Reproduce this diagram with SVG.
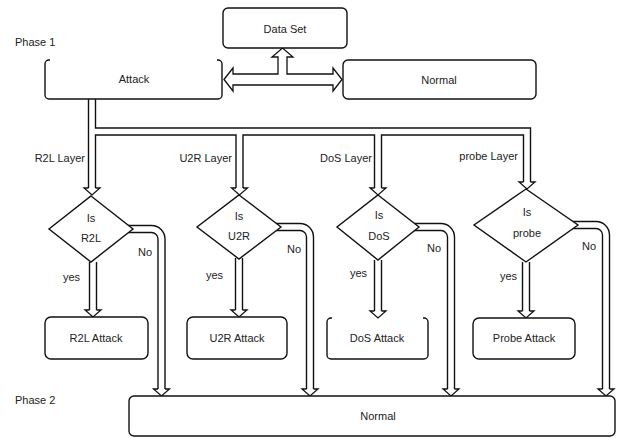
<svg xmlns="http://www.w3.org/2000/svg" width="619" height="438" viewBox="0 0 619 438">
<style>
.box{fill:#fff;stroke:#111;stroke-width:1.4}
.open{fill:none;stroke:#111;stroke-width:1.4}
.t{font-family:"Liberation Sans",Arial,sans-serif;font-size:11px;fill:#222}
.c{text-anchor:middle}
.r{text-anchor:end}
.outer{fill:none;stroke:#111;stroke-width:8.4;stroke-linejoin:miter}
.inner{fill:none;stroke:#fff;stroke-width:5.6;stroke-linejoin:miter}
.head{fill:#fff;stroke:#111;stroke-width:1.3;stroke-linejoin:miter}
</style>
<rect width="619" height="438" fill="#fff"/>
<text class="t" x="15" y="46">Phase 1</text>
<text class="t" x="15" y="404">Phase 2</text>
<g id="connectors">
<polygon class="head" points="224,79.5 233,68 233,74 278,74 278,57 272,57 282.5,48 293,57 287,57 287,74 333,74 333,68 342,79.5 333,91 333,85 233,85 233,91"/>
<g class="outer">
<path d="M92,99 V188"/>
<path d="M92,131.5 H527 V182"/>
<path d="M239.5,131.5 V188"/>
<path d="M378,131.5 V188"/>
<path d="M93,262 V310"/>
<path d="M239,258 V310"/>
<path d="M378,260 V311"/>
<path d="M526,262 V311"/>
<path d="M128,229 H151.5 A10,10 0 0 1 161.5,239 V389"/>
<path d="M276,227 H300 A10,10 0 0 1 310,237 V389"/>
<path d="M414,227 H441 A10,10 0 0 1 451,237 V389"/>
<path d="M572,225 H596 A10,10 0 0 1 606,235 V389"/>
</g>
<g class="inner">
<path d="M92,98 V188.5"/>
<path d="M92,131.5 H527 V182.5"/>
<path d="M239.5,131.5 V188.5"/>
<path d="M378,131.5 V188.5"/>
<path d="M93,261 V310.5"/>
<path d="M239,257 V310.5"/>
<path d="M378,259 V311.5"/>
<path d="M526,261 V311.5"/>
<path d="M128,229 H151.5 A10,10 0 0 1 161.5,239 V389.5"/>
<path d="M276,227 H300 A10,10 0 0 1 310,237 V389.5"/>
<path d="M414,227 H441 A10,10 0 0 1 451,237 V389.5"/>
<path d="M572,225 H596 A10,10 0 0 1 606,235 V389.5"/>
</g>
<polyline class="head" points="88.5,188 84,188 92,195 100,188 95.5,188"/>
<polyline class="head" points="523.5,182 519,182 527,189 535,182 530.5,182"/>
<polyline class="head" points="236,188 231.5,188 239.5,195 247.5,188 243,188"/>
<polyline class="head" points="374.5,188 370,188 378,195 386,188 381.5,188"/>
<polyline class="head" points="89.5,310 85,310 93,317 101,310 96.5,310"/>
<polyline class="head" points="235.5,310 231,310 239,317 247,310 242.5,310"/>
<polyline class="head" points="374.5,311 370,311 378,318 386,311 381.5,311"/>
<polyline class="head" points="522.5,311 518,311 526,318 534,311 529.5,311"/>
<polyline class="head" points="158,389 153.5,389 161.5,396 169.5,389 165,389"/>
<polyline class="head" points="306.5,389 302,389 310,396 318,389 313.5,389"/>
<polyline class="head" points="447.5,389 443,389 451,396 459,389 454.5,389"/>
<polyline class="head" points="602.5,389 598,389 606,396 614,389 609.5,389"/>
<text class="t r" x="85" y="162">R2L Layer</text>
<text class="t r" x="232" y="162">U2R Layer</text>
<text class="t r" x="372" y="162">DoS Layer</text>
<text class="t r" x="518" y="160">probe Layer</text>
<text class="t" x="63" y="281">yes</text>
<text class="t" x="206" y="279">yes</text>
<text class="t" x="350" y="277">yes</text>
<text class="t" x="500" y="280">yes</text>
<text class="t" x="138" y="256">No</text>
<text class="t" x="287" y="253">No</text>
<text class="t" x="427" y="252">No</text>
<text class="t" x="582" y="250">No</text>
</g>
<g id="dataset">
<rect class="box" x="223" y="8" width="124" height="40" rx="5"/>
<text class="t c" x="285" y="33">Data Set</text>
</g>
<g id="attack">
<path class="open" d="M50,60 H49 A4,4 0 0 0 45,64 V95 A4,4 0 0 0 49,99 H218 A4,4 0 0 0 222,95 V64 A4,4 0 0 0 218,60 H217"/>
<text class="t c" x="134" y="83">Attack</text>
</g>
<g id="normal-top">
<rect class="box" x="343" y="60" width="193" height="39" rx="5"/>
<text class="t c" x="439" y="84">Normal</text>
</g>
<g id="is-r2l">
<polygon class="box" points="91,196 133,229 91,262 49,229"/>
<text class="t c" x="91" y="222">Is</text>
<text class="t c" x="91" y="242">R2L</text>
</g>
<g id="is-u2r">
<polygon class="box" points="239,195 281,227 239,259 197,227"/>
<text class="t c" x="239" y="220">Is</text>
<text class="t c" x="239" y="240">U2R</text>
</g>
<g id="is-dos">
<polygon class="box" points="378,195 419,227 378,260 337,227"/>
<text class="t c" x="379" y="219">Is</text>
<text class="t c" x="379" y="240">DoS</text>
</g>
<g id="is-probe">
<polygon class="box" points="526,189 578,225 526,262 474,225"/>
<text class="t c" x="527" y="216">Is</text>
<text class="t c" x="527" y="237">probe</text>
</g>
<g id="r2l-attack">
<rect class="box" x="45" y="317" width="103" height="42" rx="6"/>
<text class="t c" x="96" y="342">R2L Attack</text>
</g>
<g id="u2r-attack">
<rect class="box" x="187" y="317" width="100" height="42" rx="6"/>
<text class="t c" x="237" y="342">U2R Attack</text>
</g>
<g id="dos-attack">
<path class="open" d="M332,318 H331 A4,4 0 0 0 327,322 V355 A4,4 0 0 0 331,359 H424 A4,4 0 0 0 428,355 V322 A4,4 0 0 0 424,318 H423"/>
<text class="t c" x="377" y="342">DoS Attack</text>
</g>
<g id="probe-attack">
<rect class="box" x="473" y="318" width="102" height="41" rx="6"/>
<text class="t c" x="524" y="342">Probe Attack</text>
</g>
<g id="normal-bottom">
<rect class="box" x="129" y="396" width="486" height="40" rx="5"/>
<text class="t c" x="378" y="420">Normal</text>
</g>
</svg>
